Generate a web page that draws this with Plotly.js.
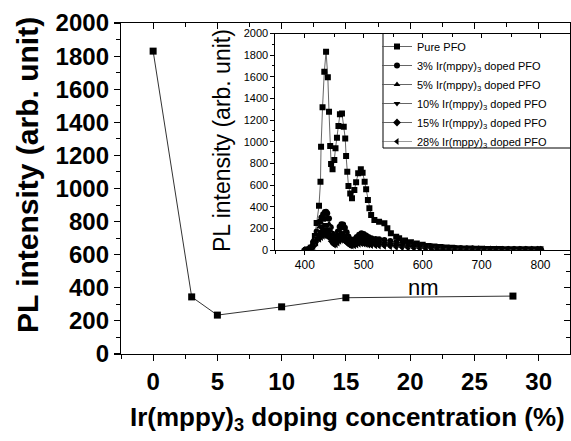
<!DOCTYPE html>
<html><head><meta charset="utf-8">
<script src="https://cdn.plot.ly/plotly-3.0.1.min.js"></script>
<style>html,body{margin:0;padding:0;background:#fff;}#chart{width:571px;height:441px;}</style>
</head><body><div id="chart"></div>
<script>
// ---- main chart data ----
const concentration = [0, 3, 5, 10, 15, 28];
const plIntensity = [1830, 345, 235, 285, 340, 350];
const mainXTicks = [0, 5, 10, 15, 20, 25, 30];
const mainYTicks = [0, 200, 400, 600, 800, 1000, 1200, 1400, 1600, 1800, 2000];

// ---- inset spectra ----
const pureNm = [402, 406, 410, 414, 417, 420, 424, 426.5, 427.5, 430, 433, 436, 439, 441, 443, 444.5, 447, 450, 452, 454.5, 457, 459.5, 463, 466, 468.5, 470, 472, 474, 477, 480, 484, 487, 490.5, 495, 498, 501.5, 504, 507, 509.5, 512.5, 518, 526, 535, 540, 546, 555, 560, 570, 580, 590, 600, 610, 620, 630, 640, 650, 660, 670, 680, 690, 700, 710, 720, 730, 740, 750, 760, 770, 780, 790, 800];
const purePFO = [0, 5, 20, 60, 130, 250, 409, 631, 954, 1318, 1646, 1831, 1595, 1277, 960, 794, 745, 831, 939, 1037, 1145, 1253, 1262, 1139, 1031, 868, 723, 591, 523, 477, 554, 625, 708, 745, 714, 631, 561, 462, 385, 323, 277, 261, 246, 200, 154, 123, 108, 88, 72, 60, 48, 38, 32, 27, 23, 20, 17, 15, 13, 12, 11, 10, 9, 9, 8, 8, 7, 7, 7, 6, 6];
const dopedNm = [400, 405, 410, 415, 420, 425, 428, 431, 434, 436, 438, 441, 444, 447, 450, 453, 456, 459, 462, 465, 468, 471, 474, 477, 480, 484, 488, 492, 496, 500, 504, 508, 513, 520, 526, 535, 545, 555, 565, 575, 585, 595, 605, 615, 625, 635, 645, 655, 665, 675, 685, 695, 705, 715, 725, 735, 745, 755, 765, 775, 785, 795, 800];
const doped3 = [0, 5, 25, 80, 170, 260, 300, 330, 350, 354, 340, 290, 210, 150, 117, 130, 170, 215, 238, 235, 205, 165, 125, 100, 92, 100, 120, 142, 154, 148, 135, 120, 108, 102, 99, 92, 82, 72, 62, 55, 48, 44, 38, 33, 28, 24, 21, 18, 16, 14, 13, 11, 10, 9, 8, 8, 7, 7, 6, 6, 5, 5, 5];
const doped5 = [0, 4, 20, 65, 140, 215, 250, 275, 290, 295, 282, 240, 175, 125, 98, 108, 142, 180, 198, 196, 170, 137, 104, 84, 77, 84, 100, 118, 128, 123, 112, 100, 90, 85, 82, 76, 68, 60, 52, 46, 40, 36, 32, 27, 23, 20, 17, 15, 13, 12, 11, 9, 8, 8, 7, 6, 6, 6, 5, 5, 4, 4, 4];
const doped10 = [0, 3, 16, 52, 112, 172, 200, 220, 232, 236, 226, 192, 140, 100, 78, 86, 113, 144, 158, 157, 136, 110, 83, 67, 62, 67, 80, 94, 102, 98, 90, 80, 72, 68, 66, 61, 54, 48, 42, 37, 32, 29, 25, 22, 19, 16, 14, 12, 11, 10, 9, 8, 7, 6, 6, 5, 5, 5, 4, 4, 4, 3, 3];
const doped15 = [0, 2, 12, 40, 86, 132, 154, 170, 178, 181, 173, 147, 108, 77, 60, 66, 87, 110, 121, 120, 104, 84, 64, 52, 48, 52, 61, 72, 78, 75, 69, 62, 55, 52, 50, 47, 42, 37, 32, 28, 25, 22, 19, 17, 15, 13, 11, 10, 9, 8, 7, 6, 6, 5, 5, 4, 4, 4, 3, 3, 3, 3, 3];
const doped28 = [0, 2, 9, 30, 64, 98, 114, 126, 132, 134, 128, 109, 80, 57, 45, 49, 64, 81, 90, 89, 77, 62, 48, 39, 36, 39, 45, 53, 58, 56, 51, 46, 41, 39, 37, 35, 31, 27, 24, 21, 18, 16, 14, 12, 11, 10, 9, 8, 7, 6, 6, 5, 5, 4, 4, 4, 3, 3, 3, 3, 2, 2, 2];
const seriesNames = ['Pure PFO', '3% Ir(mppy)<sub>3</sub> doped PFO', '5% Ir(mppy)<sub>3</sub> doped PFO', '10% Ir(mppy)<sub>3</sub> doped PFO', '15% Ir(mppy)<sub>3</sub> doped PFO', '28% Ir(mppy)<sub>3</sub> doped PFO'];
const insetXTicks = [400, 500, 600, 700, 800];
const insetYTicks = [0, 200, 400, 600, 800, 1000, 1200, 1400, 1600, 1800, 2000];

const mainXTitle = 'Ir(mppy)<sub>3</sub> doping concentration (%)';
const mainYTitle = 'PL intensity (arb. unit)';
const insetXTitle = 'nm';
const insetYTitle = 'PL intensity (arb. unit)';

// ---- geometry (pixels) ----
const W = 571, H = 441, L = 121, R = 1, T = 23, B = 87;
const PW = W - L - R, PH = H - T - B;
const fx = px => (px - L) / PW;
const fy = py => (H - B - py) / PH;

const FONT = 'Arial, "Liberation Sans", Helvetica, sans-serif';
const symbols = ['square', 'circle', 'triangle-up', 'triangle-down', 'diamond', 'triangle-left'];
const insetX = [pureNm, dopedNm, dopedNm, dopedNm, dopedNm, dopedNm];
const insetY = [purePFO, doped3, doped5, doped10, doped15, doped28];

const traces = [{
  x: concentration, y: plIntensity, xaxis: 'x', yaxis: 'y',
  mode: 'lines+markers', showlegend: false,
  line: {color: '#333', width: 1},
  marker: {symbol: 'square', size: 7, color: '#000'}
}];
for (let i = 0; i < seriesNames.length; i++) {
  traces.push({
    x: insetX[i], y: insetY[i], xaxis: 'x2', yaxis: 'y2', name: seriesNames[i],
    mode: 'lines+markers',
    line: {color: '#555', width: i === 5 ? 0.6 : 0.9},
    marker: {symbol: symbols[i], size: 6, color: '#000', line: {width: 0}}
  });
}
// carriers for mirrored tick axes
traces.push({x: [], y: [], xaxis: 'x3', yaxis: 'y', showlegend: false, hoverinfo: 'skip'});
traces.push({x: [], y: [], xaxis: 'x', yaxis: 'y3', showlegend: false, hoverinfo: 'skip'});
traces.push({x: [], y: [], xaxis: 'x4', yaxis: 'y2', showlegend: false, hoverinfo: 'skip'});

const mainX = [-2.5, 32.44];
const insX = [350, 850];
const insDomX = [fx(275.4), 1];
const insDomY = [fy(250), fy(33.5)];

const axBase = {showgrid: false, zeroline: false, showline: true, linecolor: '#000', linewidth: 1.2, color: '#000'};

const layout = {
  width: W, height: H,
  margin: {l: L, r: R, t: T, b: B, pad: 0},
  paper_bgcolor: '#fff', plot_bgcolor: '#fff',
  font: {family: FONT, color: '#000'},
  showlegend: true,
  xaxis: Object.assign({}, axBase, {
    domain: [0, 1], range: mainX, tickvals: mainXTicks, ticks: 'outside', ticklen: 6, tickwidth: 1.2,
    tickfont: {family: FONT, size: 24, weight: 'bold'},
    minor: {dtick: 2.5, tick0: 0, ticks: 'outside', ticklen: 4, tickwidth: 1}
  }),
  yaxis: Object.assign({}, axBase, {
    domain: [0, 1], range: [0, 2000], tickvals: mainYTicks, ticks: 'outside', ticklen: 6, tickwidth: 1.2,
    tickfont: {family: FONT, size: 24, weight: 'bold'},
    minor: {dtick: 100, tick0: 0, ticks: 'outside', ticklen: 4, tickwidth: 1}
  }),
  xaxis3: Object.assign({}, axBase, {
    overlaying: 'x', anchor: 'y', side: 'top', range: mainX, tickvals: mainXTicks, ticks: 'inside', ticklen: 6,
    showticklabels: false, minor: {dtick: 2.5, tick0: 0, ticks: 'inside', ticklen: 4}
  }),
  yaxis3: Object.assign({}, axBase, {
    overlaying: 'y', anchor: 'x', side: 'right', range: [0, 2000], tickvals: mainYTicks, ticks: 'inside', ticklen: 6,
    showticklabels: false, minor: {dtick: 100, tick0: 0, ticks: 'inside', ticklen: 4}
  }),
  xaxis2: Object.assign({}, axBase, {
    domain: insDomX, anchor: 'y2', range: insX, tickvals: insetXTicks, ticks: 'outside', ticklen: 4, tickwidth: 1,
    linewidth: 1, tickfont: {family: FONT, size: 12},
    minor: {dtick: 50, tick0: 0, ticks: 'outside', ticklen: 3, tickwidth: 1}
  }),
  yaxis2: Object.assign({}, axBase, {
    domain: insDomY, anchor: 'x2', range: [0, 2000], tickvals: insetYTicks, ticks: 'outside', ticklen: 4, tickwidth: 1,
    linewidth: 1, tickfont: {family: FONT, size: 11},
    minor: {dtick: 100, tick0: 0, ticks: 'outside', ticklen: 2, tickwidth: 1}
  }),
  xaxis4: Object.assign({}, axBase, {
    overlaying: 'x2', anchor: 'y2', side: 'top', range: insX, tickvals: insetXTicks, ticks: 'inside', ticklen: 4,
    linewidth: 1, showticklabels: false, minor: {dtick: 50, tick0: 0, ticks: 'inside', ticklen: 3}
  }),
  legend: {
    x: fx(377), y: fy(32), xanchor: 'left', yanchor: 'top', xref: 'paper', yref: 'paper',
    bgcolor: 'rgba(0,0,0,0)', borderwidth: 0,
    font: {family: FONT, size: 11, color: '#000'},
    itemwidth: 30, tracegroupgap: 0
  },
  shapes: [{
    type: 'rect', xref: 'paper', yref: 'paper', x0: fx(383), x1: 1.02, y0: fy(148), y1: fy(33.5),
    line: {color: '#000', width: 1}, fillcolor: 'rgba(0,0,0,0)'
  }],
  annotations: [
    {text: mainYTitle, xref: 'paper', yref: 'paper', x: fx(28), y: fy(175), textangle: -90, showarrow: false,
     xanchor: 'center', yanchor: 'middle', font: {family: FONT, size: 30, weight: 'bold'}},
    {text: mainXTitle, xref: 'paper', yref: 'paper', x: fx(347), y: fy(418), showarrow: false,
     xanchor: 'center', yanchor: 'middle', font: {family: FONT, size: 26, weight: 'bold'}},
    {text: insetYTitle, xref: 'paper', yref: 'paper', x: fx(222), y: fy(141), textangle: -90, showarrow: false,
     xanchor: 'center', yanchor: 'middle', font: {family: FONT, size: 23}},
    {text: insetXTitle, xref: 'paper', yref: 'paper', x: fx(423), y: fy(287), showarrow: false,
     xanchor: 'center', yanchor: 'middle', font: {family: FONT, size: 22}}
  ]
};

Plotly.newPlot('chart', traces, layout, {staticPlot: true, displayModeBar: false});
</script></body></html>
